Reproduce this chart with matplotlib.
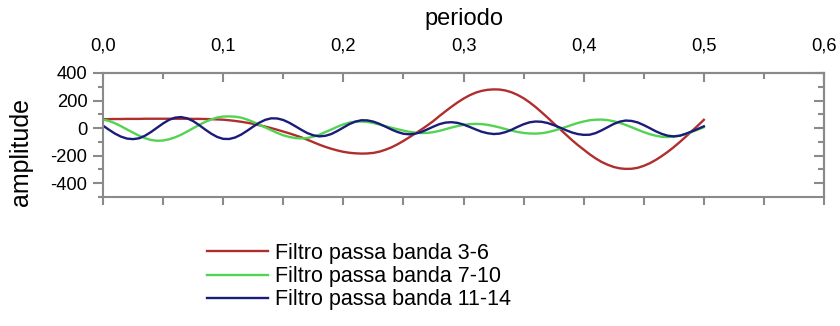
import numpy as np
import matplotlib
matplotlib.use("Agg")
import matplotlib.pyplot as plt
from matplotlib.ticker import MultipleLocator, FixedLocator

plt.rcParams['font.family'] = ['Liberation Sans', 'DejaVu Sans']

# Data

periodo = np.arange(101) * 0.005  # 0,000 ... 0,500

banda_3_6 = [
    65, 65, 66, 66, 67, 67, 67, 68, 68, 68,
    68, 68, 68, 68, 68, 67, 67, 66, 65, 63,
    61, 57, 52, 46, 39, 31, 21, 11, 0, -12,
    -25, -38, -52, -67, -84, -102, -120, -136, -150, -162,
    -172, -179, -183, -185, -184, -180, -171, -157, -140, -118,
    -93, -66, -38, -10, 20, 52, 88, 122, 155, 186,
    214, 238, 257, 270, 278, 281, 280, 273, 260, 241,
    217, 187, 153, 115, 76, 35, -5, -45, -85, -122,
    -156, -190, -220, -246, -266, -282, -292, -296, -295, -288,
    -274, -255, -231, -203, -172, -138, -101, -62, -22, 18,
    60,
]

banda_7_10 = [
    62, 52, 35, 14, -10, -33, -55, -73, -86, -92,
    -90, -81, -67, -48, -25, -1, 23, 45, 63, 77,
    84, 85, 83, 76, 62, 45, 25, 5, -15, -35,
    -52, -64, -72, -75, -72, -62, -48, -29, -10, 10,
    27, 40, 47, 48, 45, 37, 26, 14, 3, -8,
    -18, -27, -33, -36, -35, -29, -20, -8, 4, 15,
    23, 29, 31, 29, 24, 15, 5, -7, -18, -28,
    -35, -39, -40, -37, -30, -19, -6, 8, 23, 37,
    48, 57, 61, 62, 58, 50, 38, 23, 6, -12,
    -29, -44, -55, -63, -65, -62, -55, -43, -28, -11,
    6,
]

banda_11_14 = [
    18, -12, -40, -62, -76, -80, -74, -55, -28, 3,
    34, 60, 76, 80, 71, 51, 22, -10, -40, -64,
    -78, -79, -68, -47, -19, 11, 39, 60, 71, 70,
    59, 39, 14, -12, -36, -52, -60, -56, -43, -21,
    4, 29, 47, 57, 56, 47, 31, 11, -10, -28,
    -41, -45, -40, -28, -9, 11, 29, 40, 43, 38,
    26, 9, -9, -26, -37, -43, -40, -29, -12, 9,
    28, 42, 48, 46, 37, 22, 5, -14, -31, -43,
    -49, -48, -36, -16, 7, 30, 47, 55, 52, 41,
    22, 0, -23, -42, -55, -60, -55, -41, -24, -6,
    13,
]

series_labels = ['Filtro passa banda 3-6', 'Filtro passa banda 7-10', 'Filtro passa banda 11-14']
series_colors = ['#b02e2e', '#52d452', '#1b1b7a']

x_ticks = [0.0, 0.1, 0.2, 0.3, 0.4, 0.5, 0.6]
x_tick_labels = ['0,0', '0,1', '0,2', '0,3', '0,4', '0,5', '0,6']
y_ticks = [-400, -200, 0, 200, 400]
y_tick_labels = ['-400', '-200', '0', '200', '400']

# Figure

gray = '#8a8a8a'
fig = plt.figure(figsize=(8.4, 3.26), dpi=100)
ax = fig.add_axes([103 / 840, 1 - 197 / 326, 721 / 840, 124 / 326])

for values, label, color in zip([banda_3_6, banda_7_10, banda_11_14], series_labels, series_colors):
    ax.plot(periodo, values, color=color, lw=1.7, label=label)

ax.set_xlim(0, 0.6)
ax.set_ylim(-500, 400)

for side in ['left', 'bottom', 'top', 'right']:
    ax.spines[side].set_color(gray)
    ax.spines[side].set_linewidth(1.5)

# bottom: ticks outward every 0,05, no labels
ax.xaxis.set_major_locator(MultipleLocator(0.05))
ax.tick_params(axis='x', which='both', direction='out', length=6, width=1.5,
               color=gray, labelbottom=False, top=False)

# left: labelled ticks outward
ax.set_yticks(y_ticks)
ax.set_yticklabels(y_tick_labels)
ax.yaxis.set_minor_locator(FixedLocator([-500, -300, -100, 100, 300]))
ax.tick_params(axis='y', which='major', direction='out', length=7.2, width=1.5,
               color=gray, labelsize=13.2, pad=4, right=False)
ax.tick_params(axis='y', which='minor', direction='out', length=3.8, width=1.5,
               color=gray, right=False)
ax.set_ylabel('amplitude', fontsize=18)
ax.yaxis.set_label_coords(-0.097, 0.363)

# top: labelled ticks inward
top = ax.secondary_xaxis('top')
top.set_xticks(x_ticks)
top.set_xticklabels(x_tick_labels)
top.xaxis.set_minor_locator(MultipleLocator(0.05))
top.tick_params(which='major', direction='in', length=6.5, width=1.5, color=gray,
                labelsize=13.2, pad=13.5)
top.tick_params(which='minor', direction='in', length=4, width=1.5, color=gray)
top.spines['top'].set_color(gray)
top.spines['top'].set_linewidth(1.5)
top.set_xlabel('periodo', fontsize=17, labelpad=9)

# right: unlabelled ticks inward
right = ax.secondary_yaxis('right')
right.set_yticks(y_ticks)
right.set_yticklabels([])
right.yaxis.set_minor_locator(FixedLocator([-300, -100, 100, 300]))
right.tick_params(which='major', direction='in', length=7.2, width=1.5, color=gray)
right.tick_params(which='minor', direction='in', length=4, width=1.5, color=gray)
right.spines['right'].set_color(gray)
right.spines['right'].set_linewidth(1.5)

fig.legend(loc='upper left', bbox_to_anchor=(207 / 840, 1 - 243 / 326),
           frameon=False, fontsize=15.5, handlelength=2.84, handletextpad=0.33,
           labelspacing=0.1, borderpad=0, borderaxespad=0)

fig.savefig('out.png', dpi=100)
